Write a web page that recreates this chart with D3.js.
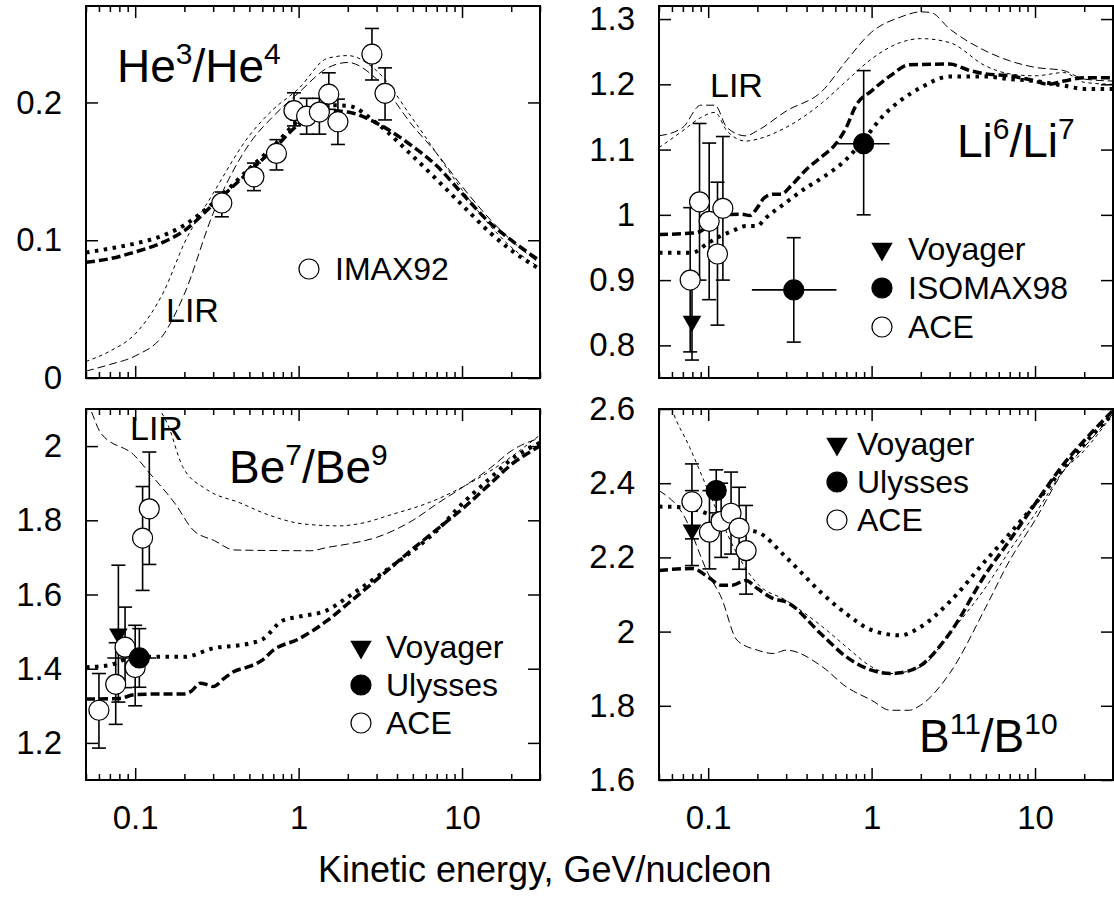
<!doctype html>
<html>
<head>
<meta charset="utf-8" />
<script src="https://cdn.jsdelivr.net/npm/d3@7"></script>
<style>
  body{margin:0;padding:0;background:#fff;}
  svg text{font-family:"Liberation Sans", Arial, Helvetica, sans-serif;fill:#000;}
</style>
</head>
<body>
<script>

// ---- x axis (kinetic energy, GeV/nucleon), shared by all panels
var xDomain = [0.05, 30];
var xMajor = [0.1, 1, 10];
var xMajorLabels = ["0.1", "1", "10"];
var xMinor = [0.05, 0.06, 0.07, 0.08, 0.09, 0.2, 0.3, 0.4, 0.5, 0.6, 0.7, 0.8, 0.9, 2, 3, 4, 5, 6, 7, 8, 9, 20, 30];

// ---- He3/He4
var heTicks = [0, 0.1, 0.2];
var heTickLabels = ["0", "0.1", "0.2"];
var heDash = [[0.05,0.084],[0.07,0.0866],[0.1,0.0915],[0.15,0.0988],[0.2,0.107],[0.3,0.126],[0.5,0.15],[0.7,0.166],[1,0.184],[1.5,0.194],[2,0.193],[3,0.185],[5,0.168],[7,0.154],[10,0.134],[15,0.112],[20,0.1],[30,0.085]];
var heDot = [[0.05,0.091],[0.07,0.094],[0.1,0.0976],[0.15,0.1037],[0.2,0.111],[0.3,0.127],[0.5,0.152],[0.7,0.168],[1,0.187],[1.5,0.198],[2,0.1976],[3,0.185],[5,0.161],[7,0.144],[10,0.1256],[15,0.105],[20,0.0927],[30,0.079]];
var heLirLong = [[0.05,0.005],[0.07,0.0098],[0.1,0.016],[0.15,0.032],[0.2,0.061],[0.3,0.1195],[0.5,0.17],[0.7,0.19],[1,0.207],[1.5,0.225],[2,0.229],[3,0.217],[5,0.183],[7,0.163],[10,0.139],[15,0.1146],[20,0.1],[30,0.083]];
var heLirShort = [[0.05,0.012],[0.07,0.0195],[0.1,0.032],[0.15,0.063],[0.2,0.098],[0.3,0.134],[0.5,0.176],[0.7,0.195],[1,0.21],[1.5,0.232],[2,0.234],[3,0.223],[5,0.188],[7,0.163],[10,0.1366],[15,0.11],[20,0.095],[30,0.08]];
// [E, value, low, high]
var heImax = [[0.339,0.127,0.117,0.135],[0.533,0.146,0.136,0.156],[0.732,0.163,0.151,0.173],[0.937,0.194,0.183,0.207],[1.12,0.190,0.177,0.203],[1.34,0.193,0.177,0.203],[1.53,0.206,0.195,0.2215],[1.74,0.186,0.1695,0.2024],[2.81,0.235,0.2163,0.2537],[3.38,0.2066,0.1873,0.2251]];

// ---- Li6/Li7
var liTicks = [0.8, 0.9, 1, 1.1, 1.2, 1.3];
var liTickLabels = ["0.8", "0.9", "1", "1.1", "1.2", "1.3"];
var liDash = [[0.05,0.970],[0.08,0.972],[0.09,0.975],[0.1,0.983],[0.11,0.998],[0.12,1.0],[0.16,1.001],[0.18,0.999],[0.2,1.011],[0.22,1.026],[0.25,1.0316],[0.28,1.0316],[0.32,1.044],[0.4,1.07],[0.5,1.09],[0.6,1.108],[0.7,1.134],[0.8,1.167],[1,1.19],[1.3,1.213],[1.7,1.23],[3,1.231],[4,1.221],[5,1.216],[7,1.213],[10,1.205],[12,1.2],[15,1.205],[20,1.21],[30,1.21]];
var liDot = [[0.05,0.942],[0.08,0.942],[0.1,0.957],[0.12,0.968],[0.14,0.975],[0.17,0.983],[0.2,0.983],[0.22,0.993],[0.3,1.019],[0.4,1.042],[0.5,1.057],[0.7,1.085],[0.9,1.116],[1.2,1.154],[1.5,1.175],[2,1.195],[3,1.212],[5,1.212],[7,1.208],[10,1.205],[15,1.198],[20,1.193],[30,1.193]];
var liLirLong = [[0.05,1.121],[0.07,1.134],[0.09,1.168],[0.11,1.168],[0.13,1.134],[0.17,1.121],[0.2,1.129],[0.3,1.159],[0.5,1.19],[0.7,1.236],[1,1.28],[1.5,1.303],[2,1.311],[2.3,1.31],[3,1.285],[5,1.251],[7,1.236],[10,1.226],[15,1.221],[20,1.208],[30,1.205]];
var liLirShort = [[0.05,1.103],[0.07,1.129],[0.09,1.149],[0.11,1.157],[0.13,1.129],[0.17,1.113],[0.2,1.116],[0.3,1.134],[0.5,1.172],[0.7,1.205],[1,1.239],[1.5,1.264],[2,1.27],[3,1.264],[5,1.228],[7,1.216],[10,1.213],[15,1.218],[20,1.203],[30,1.2]];
var liVoyager = [[0.0796,0.837,0.7775,0.90]];
// [E, value, low, high, Elow, Ehigh]
var liIsomax = [[0.334,0.885,0.805,0.965,0.185,0.609],[0.894,1.109,1.0,1.221,0.623,1.288]];
var liAce = [[0.0776,0.90,0.79,1.011],[0.0885,1.02,0.90,1.14],[0.1014,0.99,0.87,1.11],[0.114,0.94,0.831,1.05],[0.123,1.01,0.90,1.12]];

// ---- Be7/Be9
var beTicks = [1.2, 1.4, 1.6, 1.8, 2];
var beTickLabels = ["1.2", "1.4", "1.6", "1.8", "2"];
var beDash = [[0.05,1.318],[0.08,1.32],[0.1,1.33],[0.15,1.332],[0.2,1.332],[0.22,1.339],[0.25,1.361],[0.28,1.356],[0.3,1.352],[0.35,1.374],[0.4,1.392],[0.5,1.406],[0.6,1.423],[0.7,1.45],[1,1.48],[1.5,1.53],[2,1.575],[3,1.64],[5,1.723],[7,1.775],[10,1.83],[15,1.9],[20,1.95],[30,2.0]];
var beDot = [[0.05,1.404],[0.07,1.41],[0.1,1.432],[0.2,1.432],[0.3,1.455],[0.5,1.468],[0.6,1.479],[0.8,1.53],[1,1.54],[1.5,1.558],[2,1.593],[3,1.647],[5,1.718],[7,1.772],[10,1.844],[15,1.915],[20,1.964],[30,2.009]];
var beLirLong = [[0.05,2.12],[0.053,2.1],[0.0614,2.036],[0.1,1.973],[0.122,1.928],[0.176,1.844],[0.226,1.774],[0.306,1.745],[0.404,1.72],[1.19,1.718],[1.5,1.727],[2,1.736],[3,1.754],[5,1.8],[7,1.844],[10,1.888],[15,1.942],[20,1.987],[30,2.022]];
var beLirShort = [[0.13,2.12],[0.145,2.09],[0.158,2.059],[0.195,1.945],[0.274,1.883],[0.438,1.847],[0.65,1.815],[1.08,1.79],[1.78,1.785],[2.3,1.79],[3.8,1.817],[6.3,1.848],[10.4,1.893],[17.2,1.951],[30,2.03]];
var beVoyager = [[0.0789,1.494,1.31,1.679]];
var beUlysses = [[0.106,1.429,1.35,1.508,0.0675,0.134]];
var beAce = [[0.060,1.288,1.186,1.387],[0.076,1.358,1.25,1.47],[0.0867,1.458,1.349,1.566],[0.1,1.403,1.30,1.517],[0.111,1.752,1.611,1.891],[0.122,1.831,1.681,1.984]];

// ---- B11/B10
var bTicks = [1.6, 1.8, 2, 2.2, 2.4, 2.6];
var bTickLabels = ["1.6", "1.8", "2", "2.2", "2.4", "2.6"];
var bDash = [[0.05,2.165],[0.08,2.17],[0.1,2.147],[0.12,2.125],[0.14,2.125],[0.17,2.138],[0.2,2.116],[0.25,2.089],[0.3,2.08],[0.5,1.99],[0.7,1.932],[1,1.896],[1.3,1.887],[1.5,1.889],[2,1.909],[3,1.995],[5,2.156],[7,2.246],[10,2.344],[15,2.452],[20,2.515],[30,2.596]];
var bDot = [[0.05,2.337],[0.07,2.335],[0.1,2.317],[0.15,2.277],[0.2,2.268],[0.3,2.2],[0.5,2.102],[0.7,2.048],[1,2.004],[1.5,1.99],[2,2.013],[3,2.08],[5,2.192],[7,2.264],[10,2.344],[15,2.443],[20,2.506],[30,2.587]];
var bLirLong = [[0.05,2.38],[0.07,2.317],[0.1,2.156],[0.12,2.093],[0.15,1.977],[0.2,1.95],[0.25,1.941],[0.3,1.95],[0.5,1.905],[0.7,1.851],[1,1.815],[1.3,1.788],[1.7,1.788],[2,1.802],[3,1.887],[5,2.066],[7,2.192],[10,2.3],[15,2.434],[20,2.497],[30,2.587]];
var bLirShort = [[0.058,2.62],[0.06,2.6],[0.077,2.497],[0.1,2.38],[0.12,2.3],[0.15,2.21],[0.2,2.129],[0.3,2.084],[0.5,2.013],[0.7,1.959],[1,1.905],[1.3,1.887],[2,1.905],[3,1.995],[5,2.12],[7,2.219],[10,2.317],[15,2.434],[20,2.488],[30,2.587]];
var bVoyager = [[0.0795,2.274,2.178,2.38]];
var bUlysses = [[0.112,2.38,2.32,2.436]];
var bAce = [[0.0795,2.35,2.25,2.452],[0.1018,2.268,2.169,2.38],[0.12,2.297,2.2,2.4],[0.138,2.319,2.209,2.43],[0.1546,2.279,2.168,2.389],[0.1706,2.218,2.101,2.34]];

// ---- drawing
var width = 1114, height = 897;
var tickFont = 33, legendFont = 32, titleFont = 46, supFont = 30;
var svg = d3.select("body").append("svg").attr("width", width).attr("height", height);
svg.append("rect").attr("width", width).attr("height", height).attr("fill", "#fff");

var lineStyles = {
  dash:  {w: 3.5, d: "9,4"},
  dot:   {w: 4,   d: "3.5,5.5"},
  long:  {w: 1,   d: "8,4"},
  short: {w: 1,   d: "3.5,3.5"}
};

var panels = [
  {id: "he", x0: 86,  x1: 540,  y0: 6,   y1: 378, yDomain: [0, 0.27],   ticks: heTicks, labels: heTickLabels, xLabels: false,
   curves: [[heLirLong,"long"],[heLirShort,"short"],[heDot,"dot"],[heDash,"dash"]],
   sets: [[heImax,"open"]]},
  {id: "li", x0: 659, x1: 1113, y0: 6,   y1: 378, yDomain: [0.75, 1.32], ticks: liTicks, labels: liTickLabels, xLabels: false,
   curves: [[liLirLong,"long"],[liLirShort,"short"],[liDot,"dot"],[liDash,"dash"]],
   sets: [[liAce,"open"],[liVoyager,"tri"],[liIsomax,"fill"]]},
  {id: "be", x0: 86,  x1: 540,  y0: 409, y1: 780, yDomain: [1.1, 2.1],   ticks: beTicks, labels: beTickLabels, xLabels: true,
   curves: [[beLirLong,"long"],[beLirShort,"short"],[beDot,"dot"],[beDash,"dash"]],
   sets: [[beVoyager,"tri"],[beAce,"open"],[beUlysses,"fill"]]},
  {id: "b",  x0: 659, x1: 1113, y0: 409, y1: 780, yDomain: [1.6, 2.6],   ticks: bTicks, labels: bTickLabels, xLabels: true,
   curves: [[bLirLong,"long"],[bLirShort,"short"],[bDot,"dot"],[bDash,"dash"]],
   sets: [[bVoyager,"tri"],[bAce,"open"],[bUlysses,"fill"]]}
];

function drawMarker(g, kind, cx, cy, big) {
  if (kind == "tri") {
    var sym = d3.symbol().type(d3.symbolTriangle).size(big ? 200 : 150);
    g.append("path").attr("d", sym()).attr("transform", "translate(" + cx + "," + cy + ") rotate(180)").attr("fill", "#000");
  } else {
    g.append("circle").attr("cx", cx).attr("cy", cy).attr("r", 10)
      .attr("fill", kind == "fill" ? "#000" : "#fff").attr("stroke", "#000").attr("stroke-width", 1.2);
  }
}

function drawPanel(p) {
  var g = svg.append("g").attr("id", p.id);
  var x = d3.scaleLog().domain(xDomain).range([p.x0, p.x1]);
  var y = d3.scaleLinear().domain(p.yDomain).range([p.y1, p.y0]);

  svg.append("clipPath").attr("id", "clip-" + p.id).append("rect")
    .attr("x", p.x0).attr("y", p.y0).attr("width", p.x1 - p.x0).attr("height", p.y1 - p.y0);

  // model curves
  var line = d3.line().x(function(d){ return x(d[0]); }).y(function(d){ return y(d[1]); }).curve(d3.curveMonotoneX);
  var cg = g.append("g").attr("clip-path", "url(#clip-" + p.id + ")");
  p.curves.forEach(function(c) {
    var s = lineStyles[c[1]];
    cg.append("path").attr("d", line(c[0])).attr("fill", "none").attr("stroke", "#000")
      .attr("stroke-width", s.w).attr("stroke-dasharray", s.d);
  });

  // error bars
  var eg = g.append("g").attr("stroke", "#000").attr("stroke-width", 1.6);
  p.sets.forEach(function(set) {
    set[0].forEach(function(d) {
      var cx = x(d[0]);
      eg.append("line").attr("x1", cx).attr("x2", cx).attr("y1", y(d[2])).attr("y2", y(d[3]));
      eg.append("line").attr("x1", cx - 7).attr("x2", cx + 7).attr("y1", y(d[2])).attr("y2", y(d[2]));
      eg.append("line").attr("x1", cx - 7).attr("x2", cx + 7).attr("y1", y(d[3])).attr("y2", y(d[3]));
      if (d.length > 4) {
        eg.append("line").attr("x1", x(d[4])).attr("x2", x(d[5])).attr("y1", y(d[1])).attr("y2", y(d[1]));
      }
    });
  });
  // markers
  var mg = g.append("g");
  p.sets.forEach(function(set) {
    set[0].forEach(function(d) { drawMarker(mg, set[1], x(d[0]), y(d[1])); });
  });

  // ticks, inside the frame, on all four sides
  function clean(a) { a.select(".domain").remove(); a.selectAll("line").attr("stroke-width", 1.5); return a; }
  clean(g.append("g").attr("transform", "translate(0," + p.y1 + ")")
    .call(d3.axisBottom(x).tickValues(xMinor).tickSize(-6).tickFormat("")));
  clean(g.append("g").attr("transform", "translate(0," + p.y0 + ")")
    .call(d3.axisTop(x).tickValues(xMinor).tickSize(-6).tickFormat("")));
  clean(g.append("g").attr("transform", "translate(0," + p.y1 + ")")
    .call(d3.axisBottom(x).tickValues(xMajor).tickSize(-12).tickPadding(26)
      .tickFormat(function(d, i){ return p.xLabels ? xMajorLabels[i] : ""; })));
  clean(g.append("g").attr("transform", "translate(0," + p.y0 + ")")
    .call(d3.axisTop(x).tickValues(xMajor).tickSize(-12).tickFormat("")));
  clean(g.append("g").attr("transform", "translate(" + p.x0 + ",0)")
    .call(d3.axisLeft(y).tickValues(p.ticks).tickSize(-12).tickPadding(24)
      .tickFormat(function(d, i){ return p.labels[i]; })));
  clean(g.append("g").attr("transform", "translate(" + p.x1 + ",0)")
    .call(d3.axisRight(y).tickValues(p.ticks).tickSize(-12).tickFormat("")));
  g.selectAll(".tick text").attr("font-size", tickFont).attr("font-family", null);

  g.append("rect").attr("x", p.x0).attr("y", p.y0).attr("width", p.x1 - p.x0).attr("height", p.y1 - p.y0)
    .attr("fill", "none").attr("stroke", "#000").attr("stroke-width", 2);
}

panels.forEach(drawPanel);

// titles with superscripts
function title(x0, y0, a, sa, sb) {
  var t = svg.append("text").attr("x", x0).attr("y", y0).attr("font-size", titleFont);
  t.append("tspan").text(a);
  t.append("tspan").attr("font-size", supFont).attr("dy", -18).text(sa);
  t.append("tspan").attr("dy", 18).text("/" + a);
  t.append("tspan").attr("font-size", supFont).attr("dy", -18).text(sb);
  return t;
}
title(117, 82, "He", "3", "4");
title(957, 157, "Li", "6", "7");
title(229, 483, "Be", "7", "9");
title(919, 752, "B", "11", "10");

// LIR labels
[[166, 322], [710, 97], [130, 440]].forEach(function(p) {
  svg.append("text").attr("x", p[0]).attr("y", p[1]).attr("font-size", 34).text("LIR");
});

// legends
function legend(mx, tx, y0, step, items) {
  items.forEach(function(it, i) {
    var by = y0 + i * step;
    drawMarker(svg, it[0], mx, by - 11, true);
    svg.append("text").attr("x", tx).attr("y", by).attr("font-size", legendFont).text(it[1]);
  });
}
legend(309, 335, 280, 0, [["open", "IMAX92"]]);
legend(882, 908, 260, 39, [["tri", "Voyager"], ["fill", "ISOMAX98"], ["open", "ACE"]]);
legend(361, 386, 658, 38, [["tri", "Voyager"], ["fill", "Ulysses"], ["open", "ACE"]]);
legend(837, 857, 455, 38, [["tri", "Voyager"], ["fill", "Ulysses"], ["open", "ACE"]]);

svg.append("text").attr("x", 318).attr("y", 882).attr("font-size", 36)
  .text("Kinetic energy, GeV/nucleon");

</script>
</body>
</html>
